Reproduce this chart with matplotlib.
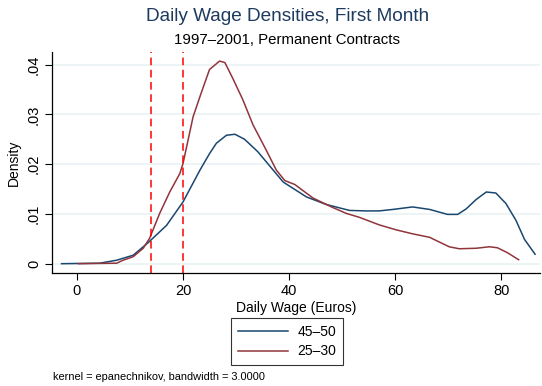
import numpy as np
import matplotlib.pyplot as plt

plt.rcParams['font.family'] = ['Liberation Sans', 'DejaVu Sans']

# Kernel density estimates, daily wage (euros) vs density
wage_45 = [-2.9, 4.3, 7.5, 10.6, 13.4, 16.9, 20.0, 23.2, 25.0, 26.3, 28.2, 29.8,
           31.6, 34.1, 38.9, 43.3, 47.0, 51.4, 54.5, 57.0, 59.6, 63.3, 66.5,
           69.9, 71.8, 73.4, 75.3, 77.2, 79.0, 80.9, 82.8, 84.4, 86.4]
dens_45 = [0.0, 0.0001, 0.0007, 0.0017, 0.0042, 0.0077, 0.0124, 0.0188, 0.0221,
           0.0242, 0.0258, 0.0260, 0.0250, 0.0225, 0.0164, 0.0134, 0.0119,
           0.0107, 0.0106, 0.0106, 0.0109, 0.0114, 0.0109, 0.0099, 0.0099,
           0.0110, 0.0129, 0.0144, 0.0142, 0.0121, 0.0087, 0.0049, 0.0019]

wage_25 = [0.3, 7.5, 8.7, 10.6, 12.5, 13.7, 15.6, 17.5, 19.4, 20.0, 21.9, 23.5,
           25.0, 26.9, 27.9, 29.4, 31.3, 33.2, 35.7, 37.6, 39.2, 41.1, 44.5,
           48.0, 50.8, 53.3, 57.0, 60.2, 63.3, 66.5, 70.2, 72.1, 75.3, 77.8,
           79.3, 81.2, 83.3]
dens_25 = [0.0, 0.0001, 0.0007, 0.0014, 0.0031, 0.0051, 0.0101, 0.0144, 0.0181,
           0.0201, 0.0295, 0.0345, 0.0390, 0.0407, 0.0404, 0.0372, 0.0329,
           0.0279, 0.0228, 0.0188, 0.0167, 0.0159, 0.0132, 0.0114, 0.0101,
           0.0093, 0.0078, 0.0068, 0.0060, 0.0053, 0.0034, 0.0030, 0.0031,
           0.0034, 0.0032, 0.0022, 0.0008]

cutoffs = [14, 20]
x_ticks = [0, 20, 40, 60, 80]
y_ticks = [0, 0.01, 0.02, 0.03, 0.04]
y_labels = ['0', '.01', '.02', '.03', '.04']

fig = plt.figure(figsize=(5.42, 3.86), dpi=100)
ax = fig.add_axes([0.096, 0.293, 0.9, 0.572])

# light horizontal grid at the y ticks
for y in y_ticks:
    ax.axhline(y, color='#eaf2f3', lw=1.2, zorder=0)

l1, = ax.plot(wage_45, dens_45, color='#1a476f', lw=1.1, label='45\u201350')
l2, = ax.plot(wage_25, dens_25, color='#90353b', lw=1.1, label='25\u201330')
for c in cutoffs:
    ax.axvline(c, color='#ff0000', lw=1.1, ls=(0, (5, 3)))

ax.set_xlim(-4.7, 87.3)
ax.set_ylim(-0.00185, 0.0425)
ax.set_xticks(x_ticks)
ax.set_yticks(y_ticks)
ax.set_yticklabels(y_labels, rotation=90, va='center')
ax.tick_params(labelsize=10.5, length=5, width=0.8, pad=3)
for s in ['top', 'right']:
    ax.spines[s].set_visible(False)
ax.spines['left'].set_linewidth(0.9)
ax.spines['bottom'].set_linewidth(0.9)
ax.set_xlabel('Daily Wage (Euros)', fontsize=10, labelpad=2)
ax.set_ylabel('Density', fontsize=10, labelpad=4)

fig.text(0.53, 0.958, 'Daily Wage Densities, First Month', ha='center', va='center',
         fontsize=13.7, color='#1e3a5f')
fig.text(0.53, 0.897, '1997\u20132001, Permanent Contracts', ha='center', va='center',
         fontsize=10.8)

leg = fig.legend(handles=[l1, l2], loc='center', bbox_to_anchor=(0.53, 0.115),
                 fontsize=10, frameon=True, fancybox=False, edgecolor='black',
                 handlelength=3.6, borderpad=0.5, labelspacing=0.4,
                 handletextpad=0.65, borderaxespad=0)
leg.get_frame().set_linewidth(0.8)

fig.text(0.098, 0.023, 'kernel = epanechnikov, bandwidth = 3.0000', ha='left',
         va='center', fontsize=7.9)

fig.savefig('out.png', dpi=100)
